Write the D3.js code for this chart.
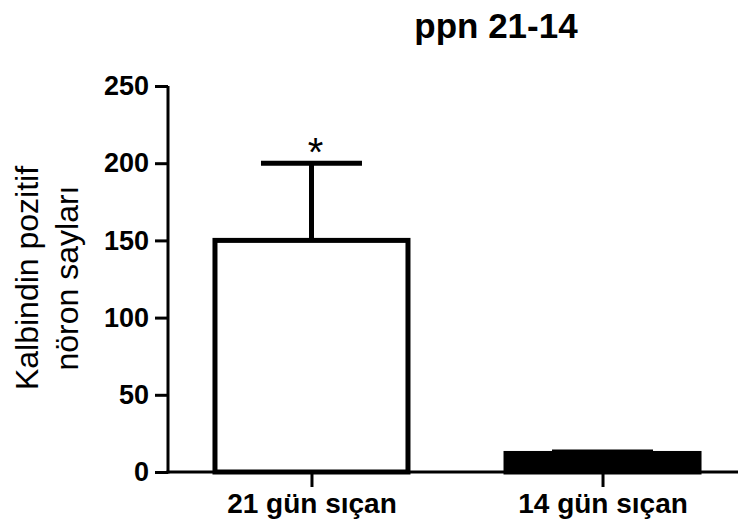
<!DOCTYPE html>
<html><head><meta charset="utf-8">
<script src="https://cdn.jsdelivr.net/npm/d3@7"></script>
<style>body{margin:0;background:#fff;} svg{display:block;font-family:"Liberation Sans",Arial,sans-serif;}</style>
</head><body>
<svg id="c" width="738" height="526"></svg>
<script>
const categories = ["21 gün sıçan", "14 gün sıçan"];
const means = [150, 12];
const errors = [50, 1];
const fills = ["#ffffff", "#000000"];
const significance = ["*", ""];
const yTicks = [0, 50, 100, 150, 200, 250];
const title = "ppn 21-14";
const yLabel = ["Kalbindin pozitif", "nöron sayları"];

const svg = d3.select("#c");
const y = d3.scaleLinear().domain([0, 250]).range([472, 86]);
const x = d3.scalePoint().domain(categories).range([168, 746]).padding(0.493);
const barW = 193;
const capW = 101;

// bars
svg.selectAll("rect.bar").data(categories).enter().append("rect")
  .attr("x", d => x(d) - barW / 2)
  .attr("y", (d, i) => y(means[i]))
  .attr("width", barW)
  .attr("height", (d, i) => y(0) - y(means[i]))
  .attr("fill", (d, i) => fills[i])
  .attr("stroke", "#000").attr("stroke-width", 5);

// error bars
const eb = svg.selectAll("g.eb").data(categories).enter().append("g");
eb.append("line")
  .attr("x1", d => x(d)).attr("x2", d => x(d))
  .attr("y1", (d, i) => y(means[i])).attr("y2", (d, i) => y(means[i] + errors[i]))
  .attr("stroke", "#000").attr("stroke-width", 5);
eb.append("line")
  .attr("x1", d => x(d) - capW / 2).attr("x2", d => x(d) + capW / 2)
  .attr("y1", (d, i) => y(means[i] + errors[i])).attr("y2", (d, i) => y(means[i] + errors[i]))
  .attr("stroke", "#000").attr("stroke-width", 5);
eb.append("text")
  .attr("x", d => x(d) + 4)
  .attr("y", (d, i) => y(means[i] + errors[i]) + 3)
  .attr("text-anchor", "middle").attr("font-size", 40)
  .text((d, i) => significance[i]);

// y axis
const yAxis = svg.append("g").attr("transform", "translate(168,0)")
  .call(d3.axisLeft(y).tickValues(yTicks).tickSize(13).tickPadding(6));
yAxis.select(".domain").attr("stroke-width", 3).attr("d", `M0,${y(250)}V${y(0) + 1.5}`);
yAxis.selectAll(".tick line").attr("stroke-width", 3);
yAxis.selectAll(".tick text").attr("font-size", 27).attr("font-weight", "bold")
  .attr("font-family", "Liberation Sans, Arial, sans-serif").attr("fill", "#000");

// x axis
const xAxis = svg.append("g").attr("transform", "translate(0,472)")
  .call(d3.axisBottom(x).tickSize(15).tickPadding(6));
xAxis.select(".domain").attr("stroke-width", 3).attr("d", "M166.5,0H738");
xAxis.selectAll(".tick line").attr("stroke-width", 3);
xAxis.selectAll(".tick text").attr("font-size", 28).attr("font-weight", "bold")
  .attr("font-family", "Liberation Sans, Arial, sans-serif").attr("fill", "#000");

// title
svg.append("text").attr("x", 496).attr("y", 38).attr("text-anchor", "middle")
  .attr("font-size", 35).attr("font-weight", "bold").text(title);

// y label
const yl = svg.append("text").attr("transform", "translate(0,278) rotate(-90)")
  .attr("text-anchor", "middle").attr("font-size", 32);
yLabel.forEach((t, i) => yl.append("tspan").attr("x", 0).attr("y", 38 + i * 40).text(t));
</script>
</body></html>
